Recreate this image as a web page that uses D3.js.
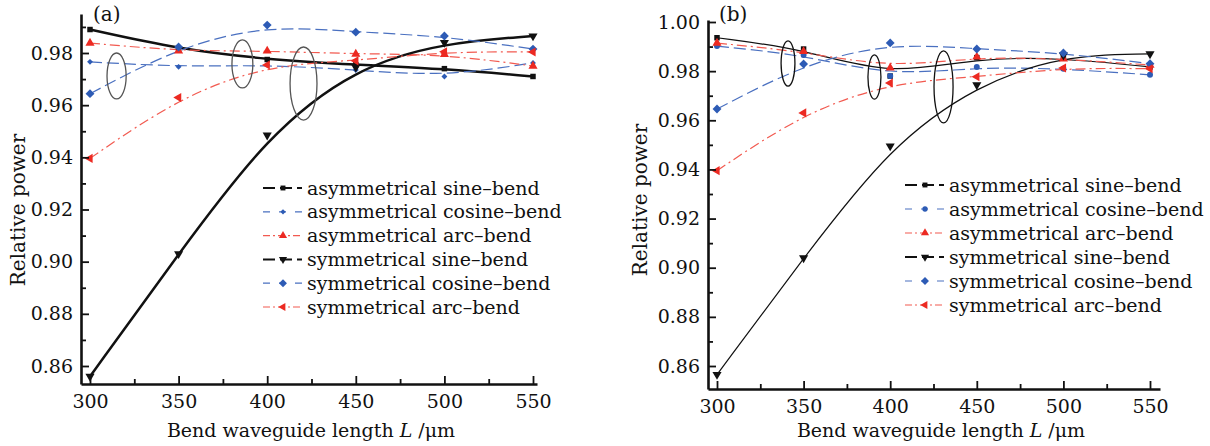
<!DOCTYPE html>
<html>
<head>
<meta charset="utf-8">
<script src="https://cdn.jsdelivr.net/npm/d3@7"></script>
<style>
  body { margin: 0; background: #fff; }
  svg { display: block; }
  text { font-family: "DejaVu Serif", serif; fill: #111; }
</style>
</head>
<body>
<div id="chart"></div>
<script>

// bend waveguide length (um)
var lengths = [300, 350, 400, 450, 500, 550];
var xTicks = [300, 350, 400, 450, 500, 550];
var xMinor = [325, 375, 425, 475, 525];
var yTicksA = [0.86, 0.88, 0.90, 0.92, 0.94, 0.96, 0.98];
var yTicksB = [0.86, 0.88, 0.90, 0.92, 0.94, 0.96, 0.98, 1.00];
var yMinorA = [0.87, 0.89, 0.91, 0.93, 0.95, 0.97, 0.99];
var yMinorB = [0.87, 0.89, 0.91, 0.93, 0.95, 0.97, 0.99];

var seriesNames = ["asymmetrical sine\u2013bend", "asymmetrical cosine\u2013bend", "asymmetrical arc\u2013bend",
    "symmetrical sine\u2013bend", "symmetrical cosine\u2013bend", "symmetrical arc\u2013bend"];

// panel (a) relative power
var aAsymSine = [0.989, 0.9815, 0.9775, 0.9755, 0.974, 0.971];
var aAsymCos = [0.9766, 0.9747, 0.9755, 0.9735, 0.971, 0.9762];
var aAsymArc = [0.9838, 0.9808, 0.9808, 0.9796, 0.9795, 0.975];
var aSymSine = [0.856, 0.903, 0.9485, 0.9745, 0.984, 0.9865];
var aSymCos = [0.9644, 0.9823, 0.9907, 0.988, 0.9865, 0.9815];
var aSymArc = [0.9396, 0.9629, 0.9754, 0.977, 0.9805, 0.9804];

// panel (b) relative power
var bAsymSine = [0.9936, 0.989, 0.978, 0.9855, 0.9853, 0.9817];
var bAsymCos = [0.9902, 0.9866, 0.978, 0.9817, 0.981, 0.9785];
var bAsymArc = [0.9914, 0.988, 0.9813, 0.9858, 0.985, 0.9825];
var bSymSine = [0.8565, 0.904, 0.9495, 0.9744, 0.9865, 0.987];
var bSymCos = [0.9646, 0.9829, 0.9915, 0.989, 0.9874, 0.983];
var bSymArc = [0.9395, 0.963, 0.9752, 0.9777, 0.9813, 0.981];

// ellipse call-outs (centre in data units, radii in data units)
var aRings = [
    {x: 315, y: 0.9712, rx: 5.4, ry: 0.0088},
    {x: 386, y: 0.9758, rx: 5.9, ry: 0.0092},
    {x: 420.5, y: 0.9683, rx: 7.6, ry: 0.014}
];
var bRings = [
    {x: 341, y: 0.9831, rx: 4.0, ry: 0.0092},
    {x: 390.9, y: 0.9776, rx: 3.75, ry: 0.009},
    {x: 430.8, y: 0.9736, rx: 5.5, ry: 0.01465}
];

var black = '#111';
var blue = '#2d5bb5';
var red = '#ec2a22';

var svg = d3.select('#chart')
    .append('svg')
    .attr('width', 1210)
    .attr('height', 446);

function displayPanel(opt) {
    var x = d3.scaleLinear().domain([300, 550]).range([opt.x300, opt.x550]);
    x = x.copy().domain([x.invert(opt.left), x.invert(opt.right)]).range([opt.left, opt.right]);
    var y = d3.scaleLinear().domain([0.86, opt.yTopVal]).range([opt.y086, opt.yTopPx]);
    y = y.copy().domain([y.invert(opt.bottom), y.invert(opt.top)]).range([opt.bottom, opt.top]);

    var g = svg.append('g');

    // series
    var styles = [
        {values: opt.series[0], color: black, dash: null, width: opt.sineWidth, sym: d3.symbolSquare, size: 30, angle: 0, lineColor: black},
        {values: opt.series[1], color: blue, dash: '12,5', width: 1.2, sym: opt.asymCosSym, size: opt.asymCosSize, angle: 0, lineColor: '#4a70c0'},
        {values: opt.series[2], color: red, dash: '10,4,2,4', width: 1.2, sym: d3.symbolTriangle, size: 36, angle: 0, lineColor: '#f25a50'},
        {values: opt.series[3], color: black, dash: null, width: opt.sineWidth, sym: d3.symbolTriangle, size: 36, angle: 180, lineColor: black},
        {values: opt.series[4], color: blue, dash: '12,5', width: 1.2, sym: d3.symbolDiamond2, size: 50, angle: 0, lineColor: '#4a70c0'},
        {values: opt.series[5], color: red, dash: '10,4,2,4', width: 1.2, sym: d3.symbolTriangle, size: 36, angle: -90, lineColor: '#f25a50'}
    ];

    var line = d3.line()
        .x(function (d, i) { return x(lengths[i]); })
        .y(function (d) { return y(d); })
        .curve(d3.curveBasis);

    styles.forEach(function (s) {
        g.append('path')
            .attr('d', line(s.values))
            .attr('fill', 'none')
            .attr('stroke', s.lineColor)
            .attr('stroke-width', s.width)
            .attr('stroke-dasharray', s.dash);
    });

    styles.forEach(function (s) {
        g.selectAll(null)
            .data(s.values)
            .enter()
            .append('path')
            .attr('d', d3.symbol().type(s.sym).size(s.size))
            .attr('transform', function (d, i) {
                return 'translate(' + x(lengths[i]) + ',' + y(d) + ') rotate(' + s.angle + ')';
            })
            .attr('fill', s.color);
    });

    // call-out ellipses
    g.selectAll('ellipse')
        .data(opt.rings)
        .enter()
        .append('ellipse')
        .attr('cx', function (d) { return x(d.x); })
        .attr('cy', function (d) { return y(d.y); })
        .attr('rx', function (d) { return x(d.x + d.rx) - x(d.x); })
        .attr('ry', function (d) { return y(d.y - d.ry) - y(d.y); })
        .attr('fill', 'none')
        .attr('stroke', opt.ringColor)
        .attr('stroke-width', 1.3);

    // axes
    g.append('g')
        .attr('transform', 'translate(0,' + opt.bottom + ')')
        .call(d3.axisBottom(x).tickValues(xTicks).tickSizeInner(-8).tickSizeOuter(0).tickPadding(11));
    g.append('g')
        .attr('transform', 'translate(0,' + opt.bottom + ')')
        .call(d3.axisBottom(x).tickValues(xMinor).tickSizeInner(-5).tickSizeOuter(0).tickFormat(''))
        .select('.domain').remove();

    g.append('g')
        .attr('transform', 'translate(' + opt.left + ',0)')
        .call(d3.axisLeft(y).tickValues(opt.yTicks).tickSizeInner(-8).tickSizeOuter(0).tickPadding(8).tickFormat(d3.format('.2f')));
    g.append('g')
        .attr('transform', 'translate(' + opt.left + ',0)')
        .call(d3.axisLeft(y).tickValues(opt.yMinor).tickSizeInner(-5).tickSizeOuter(0).tickFormat(''))
        .select('.domain').remove();

    g.selectAll('.domain').attr('stroke', black).attr('stroke-width', 2.6);
    g.selectAll('.tick line').attr('stroke', black).attr('stroke-width', 1.8);
    g.selectAll('.tick text')
        .attr('font-family', '"DejaVu Serif", serif')
        .attr('font-size', 19)
        .attr('fill', '#111');

    // axis titles
    var xt = g.append('text')
        .attr('x', opt.xTitleX)
        .attr('y', 437)
        .attr('text-anchor', 'middle')
        .attr('font-size', 19);
    xt.append('tspan').text('Bend waveguide length ');
    xt.append('tspan').attr('font-style', 'italic').text('L');
    xt.append('tspan').text(' /\u03bcm');

    g.append('text')
        .attr('transform', 'translate(' + opt.yTitleX + ',' + opt.yTitleY + ') rotate(-90)')
        .attr('text-anchor', 'middle')
        .attr('dy', '0.35em')
        .attr('font-size', 20)
        .text('Relative power');

    g.append('text')
        .attr('x', opt.tagX)
        .attr('y', 21)
        .attr('font-size', 20)
        .text(opt.tag);

    // legend
    var leg = g.append('g');
    styles.forEach(function (s, i) {
        var ly = opt.legY + i * opt.legStep;
        leg.append('line')
            .attr('x1', opt.legX).attr('x2', opt.legX + 39)
            .attr('y1', ly).attr('y2', ly)
            .attr('stroke', s.lineColor)
            .attr('stroke-width', s.color === black ? 2 : 1.2)
            .attr('stroke-dasharray', s.dash === null ? '12,5' : (s.dash === '12,5' ? '7,9' : '7,3,2,3'));
        leg.append('path')
            .attr('d', d3.symbol().type(s.sym).size(s.size * 0.8))
            .attr('transform', 'translate(' + (opt.legX + 20) + ',' + ly + ') rotate(' + s.angle + ')')
            .attr('fill', s.color);
        leg.append('text')
            .attr('x', opt.legX + 44)
            .attr('y', ly)
            .attr('dy', '0.35em')
            .attr('font-size', 19)
            .text(seriesNames[i]);
    });
}

displayPanel({
    tag: '(a)', tagX: 93,
    left: 81, right: 537, x300: 90, x550: 533,
    bottom: 384, top: 14, y086: 366, yTopVal: 0.98, yTopPx: 53,
    yTicks: yTicksA, yMinor: yMinorA,
    series: [aAsymSine, aAsymCos, aAsymArc, aSymSine, aSymCos, aSymArc],
    sineWidth: 2.5, asymCosSym: d3.symbolDiamond2, asymCosSize: 22,
    rings: aRings, ringColor: '#555',
    xTitleX: 311, yTitleX: 18, yTitleY: 210,
    legX: 263, legY: 188, legStep: 23.8
});

displayPanel({
    tag: '(b)', tagX: 719,
    left: 708, right: 1160, x300: 717, x550: 1150,
    bottom: 389, top: 20, y086: 366, yTopVal: 1.00, yTopPx: 22,
    yTicks: yTicksB, yMinor: yMinorB,
    series: [bAsymSine, bAsymCos, bAsymArc, bSymSine, bSymCos, bSymArc],
    sineWidth: 1.2, asymCosSym: d3.symbolCircle, asymCosSize: 28,
    rings: bRings, ringColor: '#111',
    xTitleX: 941, yTitleX: 640, yTitleY: 200,
    legX: 905, legY: 185, legStep: 24
});

</script>
</body>
</html>
